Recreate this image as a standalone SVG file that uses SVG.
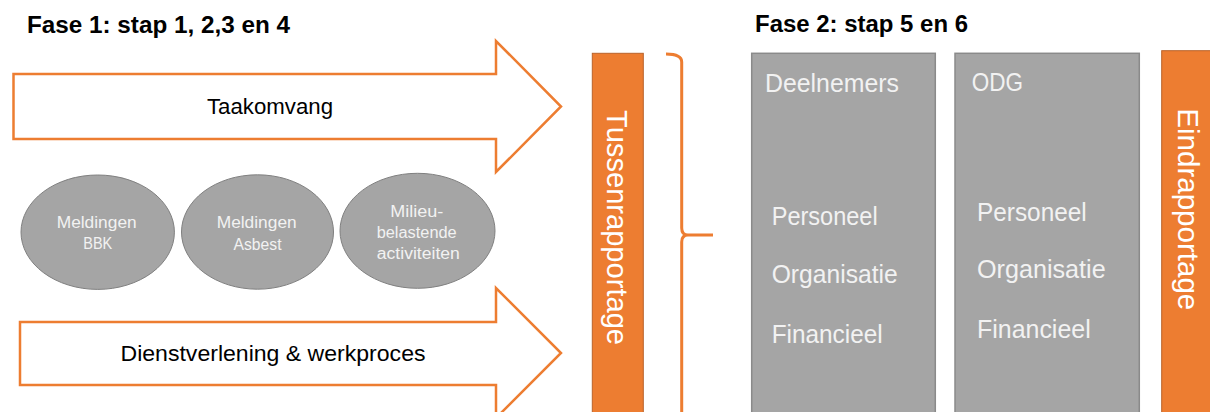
<svg xmlns="http://www.w3.org/2000/svg" width="1210" height="412" viewBox="0 0 1210 412">
<style>
.title{font-family:"Liberation Sans",Arial,sans-serif;font-weight:bold;font-size:23px;fill:#000}
.arrow{fill:#fff;stroke:#ED7D31;stroke-width:2.5;stroke-linejoin:miter}
.atext{font-family:"Liberation Sans",Arial,sans-serif;font-size:22px;fill:#000}
.ell{fill:#A5A5A5;stroke:#808080;stroke-width:1}
.etext{font-family:"Liberation Sans",Arial,sans-serif;font-size:17px;fill:#F2F2F2}
.etext2{font-family:"Liberation Sans",Arial,sans-serif;font-size:16px;fill:#F2F2F2}
.bar{fill:#ED7D31;stroke:#B9622A;stroke-width:1}
.btext{font-family:"Liberation Sans",Arial,sans-serif;font-size:30px;fill:#fff}
.box{fill:#A5A5A5;stroke:#8A8A8A;stroke-width:1.5}
.gtext{font-family:"Liberation Sans",Arial,sans-serif;font-size:25px;fill:#F2F2F2}
.brace{fill:none;stroke:#ED7D31;stroke-width:3}
</style>
<g id="title1"><text class="title" x="27" y="33" textLength="263" lengthAdjust="spacingAndGlyphs">Fase 1: stap 1, 2,3 en 4</text></g>
<g id="title2"><text class="title" x="755" y="31.5" textLength="213" lengthAdjust="spacingAndGlyphs">Fase 2: stap 5 en 6</text></g>
<g id="taakomvang">
<path class="arrow" d="M13.5,74 H496 V41 L561,106.5 L496,172 V139 H13.5 Z"/>
<text class="atext" x="270" y="114" text-anchor="middle" textLength="126" lengthAdjust="spacingAndGlyphs">Taakomvang</text>
</g>
<g id="dienstverlening">
<path class="arrow" d="M20,322 H496 V288 L561,353 L496,418 V385 H20 Z"/>
<text class="atext" x="273" y="361" text-anchor="middle" textLength="305" lengthAdjust="spacingAndGlyphs">Dienstverlening &amp; werkproces</text>
</g>
<g id="meldingen-bbk">
<ellipse class="ell" cx="97.7" cy="232.2" rx="76.7" ry="57.2"/>
<text class="etext" x="96.7" y="228.3" text-anchor="middle" textLength="80" lengthAdjust="spacingAndGlyphs">Meldingen</text>
<text class="etext" x="97.8" y="249.3" text-anchor="middle" textLength="29" lengthAdjust="spacingAndGlyphs">BBK</text>
</g>
<g id="meldingen-asbest">
<ellipse class="ell" cx="257.5" cy="232" rx="76" ry="57.2"/>
<text class="etext" x="256.7" y="228.3" text-anchor="middle" textLength="80" lengthAdjust="spacingAndGlyphs">Meldingen</text>
<text class="etext" x="257.5" y="250" text-anchor="middle" textLength="48" lengthAdjust="spacingAndGlyphs">Asbest</text>
</g>
<g id="milieu">
<ellipse class="ell" cx="417.5" cy="230.8" rx="77.5" ry="57.5"/>
<text class="etext2" x="416.7" y="216.7" text-anchor="middle" textLength="53" lengthAdjust="spacingAndGlyphs">Milieu-</text>
<text class="etext2" x="416.7" y="238.3" text-anchor="middle" textLength="80" lengthAdjust="spacingAndGlyphs">belastende</text>
<text class="etext2" x="418.3" y="259.3" text-anchor="middle" textLength="83" lengthAdjust="spacingAndGlyphs">activiteiten</text>
</g>
<g id="tussenrapportage">
<rect class="bar" x="592.3" y="53.3" width="51" height="370"/>
<text class="btext" transform="translate(606.7,110) rotate(90)" textLength="235" lengthAdjust="spacingAndGlyphs">Tussenrapportage</text>
</g>
<g id="deelnemers">
<rect class="box" x="751.7" y="53.3" width="183.6" height="370"/>
<text class="gtext" x="765" y="92.3" textLength="134" lengthAdjust="spacingAndGlyphs">Deelnemers</text>
<text class="gtext" x="771.7" y="225" textLength="106" lengthAdjust="spacingAndGlyphs">Personeel</text>
<text class="gtext" x="771.7" y="283" textLength="126" lengthAdjust="spacingAndGlyphs">Organisatie</text>
<text class="gtext" x="771.7" y="343" textLength="111" lengthAdjust="spacingAndGlyphs">Financieel</text>
</g>
<g id="odg">
<rect class="box" x="955" y="53.3" width="184.3" height="370"/>
<text class="gtext" x="971.7" y="90.7" textLength="51.3" lengthAdjust="spacingAndGlyphs">ODG</text>
<text class="gtext" x="977" y="221" textLength="109.7" lengthAdjust="spacingAndGlyphs">Personeel</text>
<text class="gtext" x="977" y="278.3" textLength="128.7" lengthAdjust="spacingAndGlyphs">Organisatie</text>
<text class="gtext" x="977" y="338.3" textLength="113.7" lengthAdjust="spacingAndGlyphs">Financieel</text>
</g>
<g id="eindrapportage">
<rect class="bar" x="1161.7" y="50.7" width="60" height="370"/>
<text class="btext" transform="translate(1178.3,108.3) rotate(90)" textLength="202" lengthAdjust="spacingAndGlyphs">Eindrapportage</text>
</g>
<g id="connectors">
<path class="brace" d="M666,54 Q681.7,54 681.7,62 V228 Q681.7,235 688,235 H713 M688,235 Q681.7,235 681.7,242 V420"/>
</g>
</svg>
